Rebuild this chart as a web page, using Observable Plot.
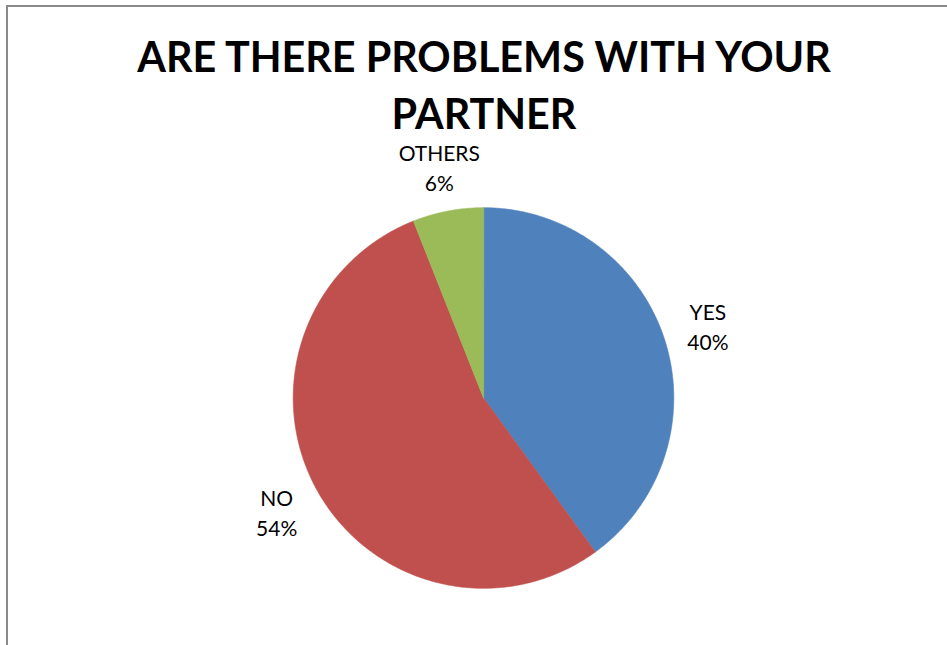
<!DOCTYPE html>
<html>
<head>
<meta charset="utf-8">
<script src="https://cdn.jsdelivr.net/npm/d3@7"></script>
<script src="https://cdn.jsdelivr.net/npm/@observablehq/plot@0.6"></script>
<style>
  html, body { margin: 0; padding: 0; background: #fff; overflow: hidden; }
  #wrap { position: relative; width: 947px; height: 645px; }
  #border { position: absolute; left: 6px; top: 5px; width: 1000px; height: 700px;
            border-left: 2px solid #8a8a8a; border-top: 2px solid #8a8a8a; pointer-events: none; }
  #chart { position: absolute; left: 0; top: 0; }
</style>
</head>
<body>
<div id="wrap"><div id="chart"></div><div id="border"></div></div>
<script>
const title = "ARE THERE PROBLEMS WITH YOUR\nPARTNER";
const categories = ["YES", "NO", "OTHERS"];
const values = [40, 54, 6];
const colors = ["#4F81BD", "#C0504D", "#9BBB59"];

const W = 947, H = 645;
const cx = 483, cy = 397.5, R = 190.3;

const data = categories.map((c, i) => ({name: c, value: values[i], color: colors[i]}));
const total = d3.sum(values);
const arcs = d3.pie().sort(null).value(d => d.value)(data);

// wedge outlines in unit-radius coordinates (angle 0 = 12 o'clock, clockwise)
const wedgePts = [];
for (const a of arcs) {
  wedgePts.push({name: a.data.name, color: a.data.color, x: 0, y: 0});
  const n = Math.max(8, Math.ceil((a.endAngle - a.startAngle) / 0.01));
  for (let k = 0; k <= n; k++) {
    const t = a.startAngle + (a.endAngle - a.startAngle) * k / n;
    wedgePts.push({name: a.data.name, color: a.data.color, x: Math.sin(t), y: Math.cos(t)});
  }
}
const labelR = 1.24;
const labels = arcs.map(a => {
  const m = (a.startAngle + a.endAngle) / 2;
  return {
    x: labelR * Math.sin(m), y: labelR * Math.cos(m),
    text: `${a.data.name}\n${Math.round(a.data.value / total * 100)}%`
  };
});

const chart = Plot.plot({
  width: W, height: H,
  margin: 0,
  style: {background: "transparent", overflow: "visible"},
  x: {domain: [-cx / R, (W - cx) / R], axis: null},
  y: {domain: [(cy - H) / R, cy / R], axis: null},
  color: {type: "identity"},
  marks: [
    Plot.line(wedgePts, {x: "x", y: "y", z: "name", fill: "color", stroke: "color",
      strokeWidth: 0.6, curve: "linear-closed"}),
    Plot.text(labels, {x: "x", y: "y", text: "text", lineAnchor: "middle",
      fontSize: 21, lineHeight: 1.43, fill: "#000",
      fontFamily: "Lato, 'Open Sans', sans-serif"}),
    Plot.text([title], {frameAnchor: "top", text: d => d, dx: 10, dy: 31,
      lineAnchor: "top", fontSize: 41.3, fontWeight: "bold", lineHeight: 1.38,
      fill: "#000", fontFamily: "Lato, 'Open Sans', sans-serif"})
  ]
});
document.getElementById("chart").appendChild(chart);
</script>
</body>
</html>
